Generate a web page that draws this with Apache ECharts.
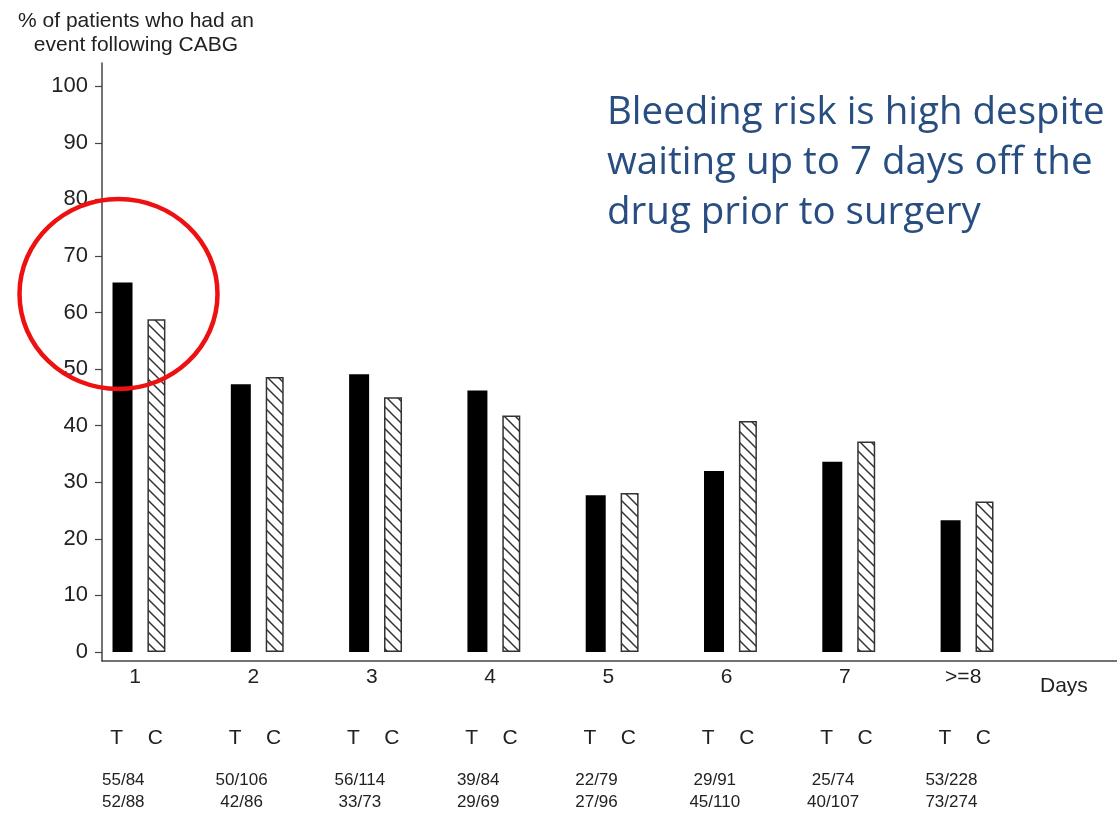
<!DOCTYPE html>
<html>
<head>
<meta charset="utf-8">
<script src="https://cdn.jsdelivr.net/npm/echarts@6/dist/echarts.min.js"></script>
<style>
  html, body { margin: 0; padding: 0; background: #fff; }
  #main { width: 1117px; height: 813px; }
</style>
</head>
<body>
<div id="main"></div>
<script>
// data
var days = ['1', '2', '3', '4', '5', '6', '7', '>=8'];
var tValues = [65.3, 47.3, 49.1, 46.2, 27.7, 32.0, 33.6, 23.3];
var cValues = [58.8, 48.6, 45.0, 41.8, 28.1, 40.8, 37.2, 26.6];
var tCounts = ['55/84', '50/106', '56/114', '39/84', '22/79', '29/91', '25/74', '53/228'];
var cCounts = ['52/88', '42/86', '33/73', '29/69', '27/96', '45/110', '40/107', '73/274'];
var yTicks = [0, 10, 20, 30, 40, 50, 60, 70, 80, 90, 100];

var FONT = 'Liberation Sans';
var dayPos = days.map(function (d, i) { return i + 1; });

// hatch pattern for the C bars
var hatch = document.createElement('canvas');
var s = 11;
hatch.width = s; hatch.height = s;
var hc = hatch.getContext('2d');
hc.fillStyle = '#fff';
hc.fillRect(0, 0, s, s);
hc.strokeStyle = '#333';
hc.lineWidth = 1.5;
[-s, 0, s].forEach(function (o) {
  hc.beginPath();
  hc.moveTo(o - 1, -1);
  hc.lineTo(o + s + 1, s + 1);
  hc.stroke();
});

var chart = echarts.init(document.getElementById('main'));

function baseX(extra) {
  var ax = {
    type: 'value',
    min: 0.72,
    max: 9.3,
    position: 'bottom',
    splitLine: { show: false },
    axisTick: { show: false },
    axisLine: { show: false }
  };
  for (var k in extra) ax[k] = extra[k];
  return ax;
}

var option = {
  animation: false,
  backgroundColor: '#fff',
  title: {
    text: '% of patients who had an\nevent following CABG',
    left: 131,
    top: 4,
    textAlign: 'center',
    textStyle: { fontFamily: FONT, fontSize: 21, fontWeight: 'normal', color: '#222', lineHeight: 24 }
  },
  grid: { left: 102, right: 0, top: 63, bottom: 151, containLabel: false },
  xAxis: [
    baseX({
      axisLine: { show: true, onZero: false, lineStyle: { color: '#444', width: 1.5 } },
      axisLabel: {
        customValues: dayPos,
        margin: 6,
        fontFamily: FONT, fontSize: 21, color: '#222',
        formatter: function (v) { return days[Math.round(v) - 1] || ''; }
      }
    }),
    baseX({
      offset: 60,
      axisLabel: {
        customValues: dayPos.map(function (p) { return p - 0.155; })
          .concat(dayPos.map(function (p) { return p + 0.17; })),
        margin: 7,
        fontFamily: FONT, fontSize: 21, color: '#222',
        formatter: function (v) { return v % 1 > 0.5 ? 'T' : 'C'; }
      }
    }),
    baseX({
      offset: 101,
      axisLabel: {
        customValues: dayPos.map(function (p) { return p - 0.1; }),
        margin: 7,
        fontFamily: FONT, fontSize: 17, color: '#222', lineHeight: 22,
        formatter: function (v) {
          var i = Math.round(v) - 1;
          return tCounts[i] + '\n' + cCounts[i];
        }
      }
    })
  ],
  yAxis: {
    type: 'value',
    min: -1.6,
    max: 104.1,
    splitLine: { show: false },
    axisLine: { show: true, lineStyle: { color: '#444', width: 1.5 } },
    axisTick: { show: true, length: 7, customValues: yTicks, lineStyle: { color: '#444', width: 1.2 } },
    axisLabel: {
      customValues: yTicks,
      margin: 14,
      fontFamily: FONT, fontSize: 22, color: '#222'
    }
  },
  series: [
    {
      name: 'T',
      type: 'bar',
      barWidth: 20,
      barGap: '-100%',
      itemStyle: { color: '#000' },
      data: tValues.map(function (v, i) { return [dayPos[i] - 0.115, v]; })
    },
    {
      name: 'C',
      type: 'bar',
      barWidth: 18,
      barGap: '-100%',
      itemStyle: { color: { image: hatch, repeat: 'repeat' }, borderColor: '#333', borderWidth: 1.5 },
      data: cValues.map(function (v, i) { return [dayPos[i] + 0.18, v]; })
    }
  ],
  graphic: [
    {
      type: 'text',
      left: 607,
      top: 88,
      style: {
        text: 'Bleeding risk is high despite\nwaiting up to 7 days off the\ndrug prior to surgery',
        font: '38.5px "Open Sans"',
        lineHeight: 50,
        fill: '#284d80'
      }
    },
    {
      type: 'text',
      left: 1040,
      top: 676,
      style: { text: 'Days', font: '21px "Liberation Sans"', fill: '#222' }
    },
    {
      type: 'ellipse',
      shape: { cx: 118.5, cy: 294, rx: 99, ry: 95 },
      style: { fill: 'none', stroke: '#ee1111', lineWidth: 4.5 },
      z: 100
    }
  ]
};

chart.setOption(option);
</script>
</body>
</html>
